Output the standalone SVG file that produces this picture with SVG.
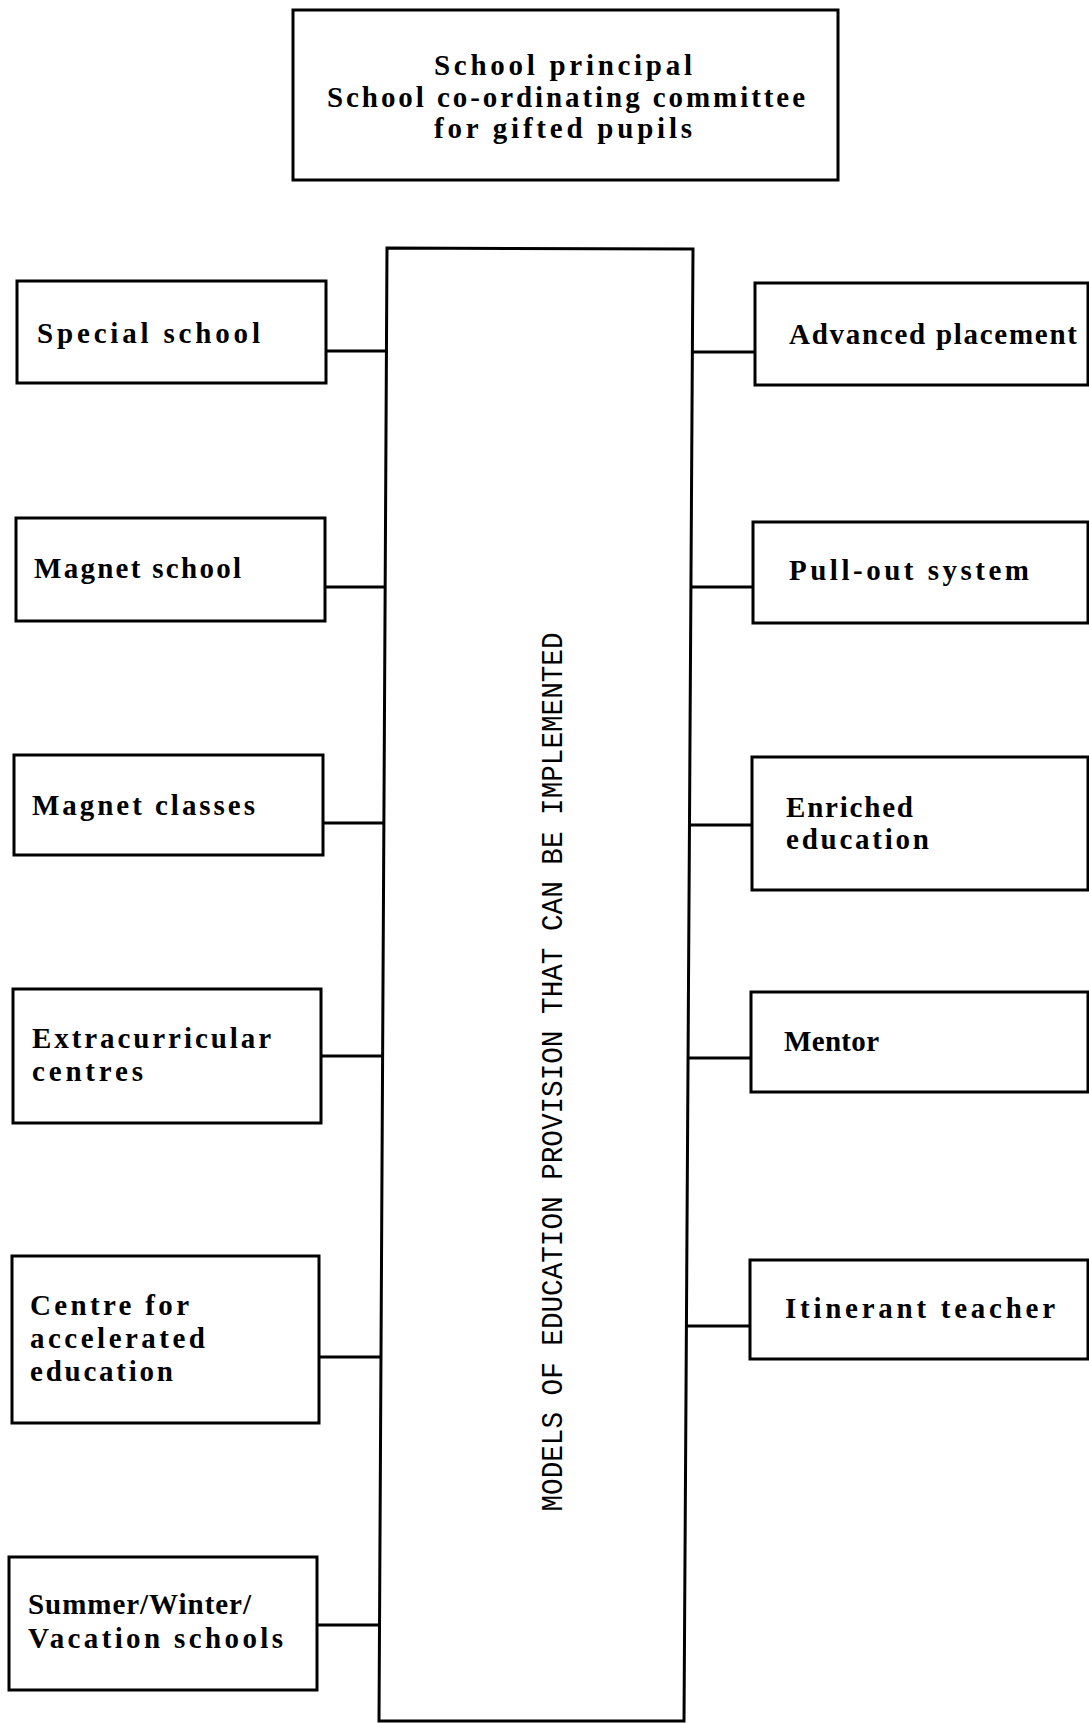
<svg xmlns="http://www.w3.org/2000/svg" width="1089" height="1723" viewBox="0 0 1089 1723">
<style>
.box{fill:#fff;stroke:#000;stroke-width:3}
.con{stroke:#000;stroke-width:3;fill:none}
.t{font-family:"Liberation Serif","Times New Roman",serif;font-weight:bold;font-size:29px;fill:#000}
.v{font-family:"Liberation Mono","Courier New",monospace;font-size:29px;fill:#000}
</style>
<rect width="1089" height="1723" fill="#fff"/>
<g id="connectors">
<line class="con" x1="326" y1="351" x2="386" y2="351"/>
<line class="con" x1="325" y1="587" x2="385" y2="587"/>
<line class="con" x1="323" y1="823" x2="384" y2="823"/>
<line class="con" x1="321" y1="1056" x2="383" y2="1056"/>
<line class="con" x1="319" y1="1357" x2="381" y2="1357"/>
<line class="con" x1="317" y1="1625" x2="380" y2="1625"/>
<line class="con" x1="692" y1="352" x2="755" y2="352"/>
<line class="con" x1="691" y1="587" x2="753" y2="587"/>
<line class="con" x1="689" y1="825" x2="752" y2="825"/>
<line class="con" x1="688" y1="1058" x2="751" y2="1058"/>
<line class="con" x1="686" y1="1326" x2="750" y2="1326"/>
</g>
<g id="top">
<rect class="box" x="293" y="10" width="545" height="170"/>
<text class="t" text-anchor="middle" x="563" y="75" textLength="258" lengthAdjust="spacing">School principal</text>
<text class="t" text-anchor="middle" x="566" y="107" textLength="478" lengthAdjust="spacing">School co-ordinating committee</text>
<text class="t" text-anchor="middle" x="563" y="138" textLength="258" lengthAdjust="spacing">for gifted pupils</text>
</g>
<g id="central">
<polygon class="box" points="387,248 693,249 684,1721 379,1721"/>
<text class="v" transform="translate(562,1072) rotate(-90)" text-anchor="middle" x="0" y="0" textLength="879" lengthAdjust="spacingAndGlyphs">MODELS OF EDUCATION PROVISION THAT CAN BE IMPLEMENTED</text>
</g>
<g id="special-school">
<rect class="box" x="17" y="281" width="309" height="102"/>
<text class="t" x="37" y="343" textLength="223" lengthAdjust="spacing">Special school</text>
</g>
<g id="magnet-school">
<rect class="box" x="16" y="518" width="309" height="103"/>
<text class="t" x="34" y="578" textLength="207" lengthAdjust="spacing">Magnet school</text>
</g>
<g id="magnet-classes">
<rect class="box" x="14" y="755" width="309" height="100"/>
<text class="t" x="32" y="815" textLength="223" lengthAdjust="spacing">Magnet classes</text>
</g>
<g id="extracurricular">
<rect class="box" x="13" y="989" width="308" height="134"/>
<text class="t" x="32" y="1048" textLength="239" lengthAdjust="spacing">Extracurricular</text>
<text class="t" x="32" y="1081" textLength="111" lengthAdjust="spacing">centres</text>
</g>
<g id="accelerated">
<rect class="box" x="12" y="1256" width="307" height="167"/>
<text class="t" x="30" y="1315" textLength="159" lengthAdjust="spacing">Centre for</text>
<text class="t" x="30" y="1348" textLength="175" lengthAdjust="spacing">accelerated</text>
<text class="t" x="30" y="1381" textLength="143" lengthAdjust="spacing">education</text>
</g>
<g id="vacation">
<rect class="box" x="9" y="1557" width="308" height="133"/>
<text class="t" x="28" y="1614" textLength="223" lengthAdjust="spacing">Summer/Winter/</text>
<text class="t" x="28" y="1648" textLength="255" lengthAdjust="spacing">Vacation schools</text>
</g>
<g id="advanced-placement">
<rect class="box" x="755" y="283" width="333" height="102"/>
<text class="t" x="789" y="344" textLength="288" lengthAdjust="spacing">Advanced placement</text>
</g>
<g id="pull-out">
<rect class="box" x="753" y="522" width="335" height="101"/>
<text class="t" x="789" y="580" textLength="240" lengthAdjust="spacing">Pull-out system</text>
</g>
<g id="enriched">
<rect class="box" x="752" y="757" width="336" height="133"/>
<text class="t" x="786" y="817" textLength="127" lengthAdjust="spacing">Enriched</text>
<text class="t" x="786" y="849" textLength="143" lengthAdjust="spacing">education</text>
</g>
<g id="mentor">
<rect class="box" x="751" y="992" width="337" height="100"/>
<text class="t" x="784" y="1051" textLength="95" lengthAdjust="spacing">Mentor</text>
</g>
<g id="itinerant">
<rect class="box" x="750" y="1260" width="338" height="99"/>
<text class="t" x="785" y="1318" textLength="270" lengthAdjust="spacing">Itinerant teacher</text>
</g>
</svg>
